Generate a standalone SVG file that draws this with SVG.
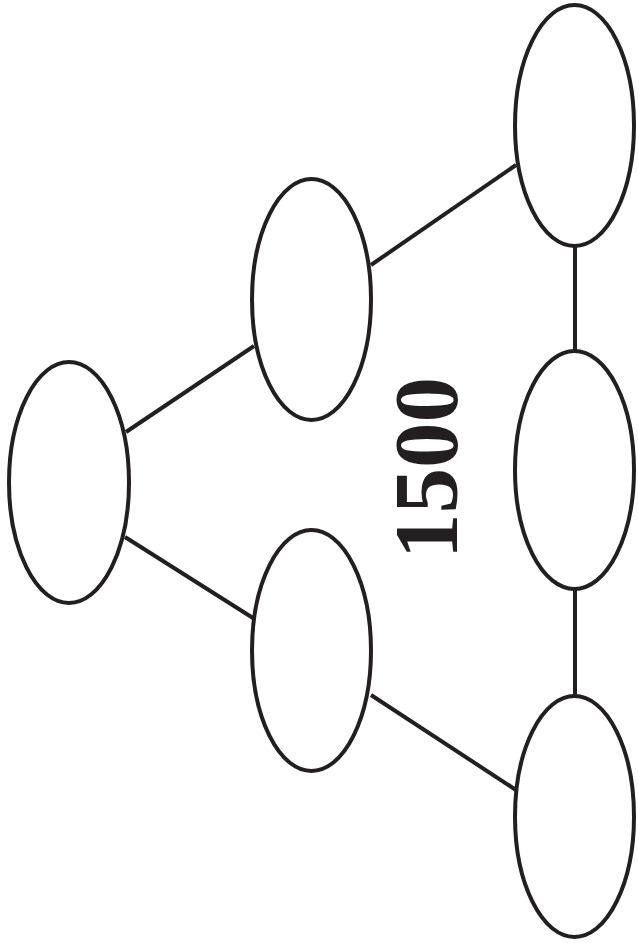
<svg xmlns="http://www.w3.org/2000/svg" width="638" height="943" viewBox="0 0 638 943">
<style>
.node{fill:#fff;stroke:#231f20;stroke-width:4}
.edge{stroke:#231f20;stroke-width:4;fill:none}
.lbl{font-family:"Liberation Serif","DejaVu Serif",serif;font-weight:bold;font-size:91px;fill:#231f20}
</style>
<rect width="638" height="943" fill="#fff"/>
<g id="connectors">
<line class="edge" x1="126" y1="432" x2="254" y2="346"/>
<line class="edge" x1="125" y1="537" x2="253" y2="618"/>
<line class="edge" x1="371" y1="265" x2="516" y2="165"/>
<line class="edge" x1="371" y1="695" x2="516" y2="790"/>
<line class="edge" x1="575" y1="246" x2="575" y2="350"/>
<line class="edge" x1="575" y1="590" x2="575" y2="696"/>
</g>
<g id="n-root"><ellipse class="node" cx="69" cy="482.5" rx="60" ry="120.5"/></g>
<g id="n-mid-top"><ellipse class="node" cx="311.5" cy="299.5" rx="59.5" ry="120.5"/></g>
<g id="n-mid-bottom"><ellipse class="node" cx="311.5" cy="650.5" rx="59.5" ry="120.5"/></g>
<g id="n-right-top"><ellipse class="node" cx="574.5" cy="125.5" rx="59.5" ry="120.5"/></g>
<g id="n-right-mid"><ellipse class="node" cx="574.5" cy="470" rx="59.5" ry="119"/></g>
<g id="n-right-bottom"><ellipse class="node" cx="574.5" cy="816.5" rx="59.5" ry="120.5"/></g>
<g id="label"><text class="lbl" transform="translate(457,468) rotate(-90)" text-anchor="middle">1500</text></g>
</svg>
